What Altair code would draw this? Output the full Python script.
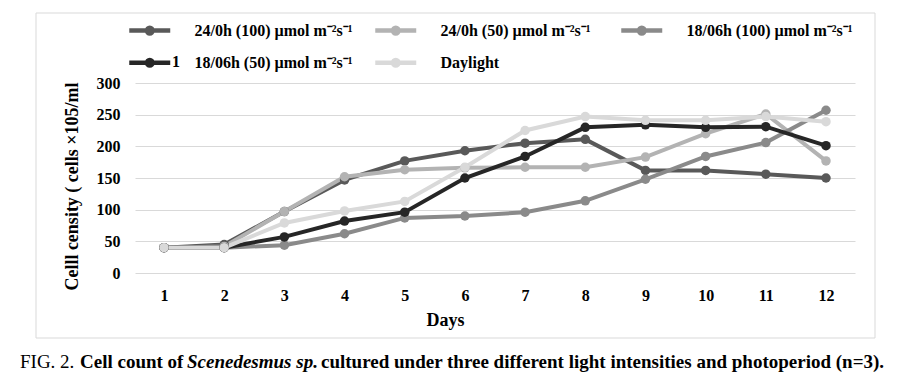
import altair as alt
import pandas as pd

days = list(range(1, 13))
series_names = [
    "24/0h (100) µmol m⁻²s⁻¹",
    "24/0h (50) µmol m⁻²s⁻¹",
    "18/06h (100) µmol m⁻²s⁻¹",
    "18/06h (50) µmol m⁻²s⁻¹",
    "Daylight",
]
s_24_100 = [40, 45, 97, 147, 177, 193, 205, 211, 162, 162, 156, 150]
s_24_50 = [40, 42, 97, 152, 163, 166, 167, 167, 183, 220, 251, 177]
s_18_100 = [40, 40, 44, 62, 87, 90, 96, 114, 148, 184, 206, 257]
s_18_50 = [40, 40, 57, 82, 96, 150, 184, 230, 234, 230, 231, 201]
s_daylight = [40, 40, 79, 98, 113, 167, 225, 247, 241, 241, 247, 239]
colors = ["#595959", "#b3b3b3", "#8a8a8a", "#262626", "#d9d9d9"]
y_ticks = [0, 50, 100, 150, 200, 250, 300]

rows = []
for name, vals in zip(series_names, [s_24_100, s_24_50, s_18_100, s_18_50, s_daylight]):
    for d, v in zip(days, vals):
        rows.append({"day": d, "value": v, "series": name})
df = pd.DataFrame(rows)

FONT = "Liberation Serif"

sym_path = ("M-2,0L2,0M-0.28,0A0.28,0.28,0,1,1,0.28,0"
            "A0.28,0.28,0,1,1,-0.28,0Z")

lines = alt.Chart(df).mark_line(
    strokeWidth=4,
    point=alt.OverlayMarkDef(filled=True, size=90, opacity=1),
).encode(
    x=alt.X("day:Q", scale=alt.Scale(domain=[0.518, 12.482], nice=False),
            axis=alt.Axis(values=days, title="Days", grid=False, domain=False,
                          ticks=False, labelPadding=14, labelFont=FONT,
                          labelFontSize=16, labelFontWeight="bold", labelColor="black",
                          titleFont=FONT, titleFontSize=18, titleFontWeight="bold",
                          titleColor="black", titleX=310, titleY=47,
                          titleBaseline="middle")),
    y=alt.Y("value:Q", scale=alt.Scale(domain=[0, 300], nice=False),
            axis=alt.Axis(values=y_ticks, title="Celll censity ( cells ×105/ml",
                          grid=True, gridColor="#d9d9d9", gridWidth=1,
                          domain=False, ticks=False, labelPadding=15,
                          labelFont=FONT, labelFontSize=16, labelFontWeight="bold",
                          labelColor="black", titleFont=FONT, titleFontSize=18,
                          titleFontWeight="bold", titleColor="black",
                          titleX=-63, titleY=103, titleBaseline="middle",
                          titleAlign="center", titleAngle=270)),
    color=alt.Color("series:N", scale=alt.Scale(domain=series_names, range=colors),
                    legend=alt.Legend(orient="none", legendX=2.25, legendY=-65.25,
                                      direction="horizontal", columns=3, title=None,
                                      symbolType=sym_path, symbolSize=420,
                                      symbolStrokeWidth=4.5, labelFont=FONT,
                                      labelFontSize=16, labelFontWeight="bold",
                                      labelColor="black", labelOffset=32.25,
                                      columnPadding=5, rowPadding=7.5,
                                      gridAlign="all", labelLimit=400, padding=0,
                                      symbolOpacity=1)),
)

one = pd.DataFrame({"t": [""]})
border = alt.Chart(one).mark_rect(fill=None, stroke="#d9d9d9", strokeWidth=1).encode(
    x=alt.value(-99), x2=alt.value(740), y=alt.value(-70), y2=alt.value(255))

stray = alt.Chart(pd.DataFrame({"t": ["1"]})).mark_text(
    font=FONT, fontSize=16, fontWeight="bold", align="left", baseline="middle",
    color="black").encode(text="t:N", x=alt.value(37), y=alt.value(-21))

cap_texts = ["FIG. 2.", "Cell count of", "Scenedesmus sp.",
             "cultured under three different light intensities and photoperiod (n=3)."]
cap_weights = ["normal", "bold", "bold", "bold"]
cap_styles = ["normal", "normal", "italic", "normal"]
cap_x = [-115, -55, 52, 186]
caps = []
for t, w, s, xx in zip(cap_texts, cap_weights, cap_styles, cap_x):
    caps.append(alt.Chart(pd.DataFrame({"t": [t]})).mark_text(
        font=FONT, fontSize=19, fontWeight=w, fontStyle=s, align="left",
        baseline="middle", color="black").encode(
        text="t:N", x=alt.value(xx), y=alt.value(279)))

chart = alt.layer(border, lines, stray, *caps).properties(
    width=720, height=190,
    autosize=alt.AutoSizeParams(type="none"),
    padding={"left": 127, "top": 75, "right": 41, "bottom": 100},
).configure_view(stroke=None)

chart.save("out.html", embed_options={"renderer": "svg", "actions": False})
